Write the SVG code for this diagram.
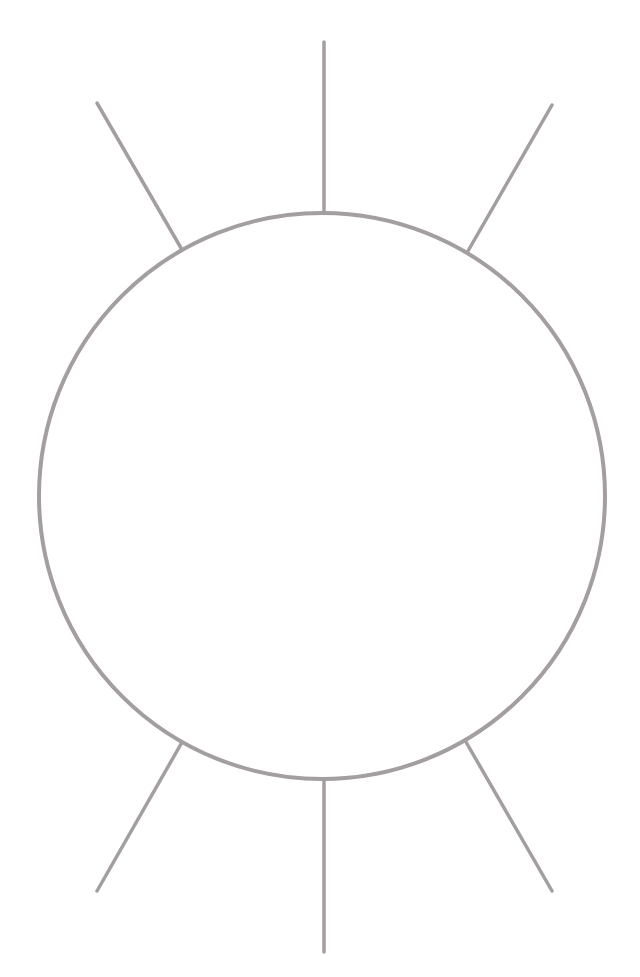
<svg xmlns="http://www.w3.org/2000/svg" width="640" height="977" viewBox="0 0 640 977">
<style>
.ray{stroke:#a39ea0;stroke-width:3.5;stroke-linecap:round;fill:none}
.ring{stroke:#a39ea0;stroke-width:4;fill:#ffffff}
</style>
<rect width="640" height="977" fill="#ffffff"/>
<g id="connectors">
<line class="ray" x1="324" y1="42" x2="324" y2="213"/>
<line class="ray" x1="324" y1="780" x2="324" y2="952"/>
<line class="ray" x1="97" y1="103" x2="181" y2="248"/>
<line class="ray" x1="552" y1="105" x2="468" y2="251"/>
<line class="ray" x1="181" y1="744" x2="97" y2="891"/>
<line class="ray" x1="466" y1="742" x2="552" y2="891"/>
</g>
<g id="circle">
<circle class="ring" cx="322" cy="496" r="283"/>
</g>
</svg>
